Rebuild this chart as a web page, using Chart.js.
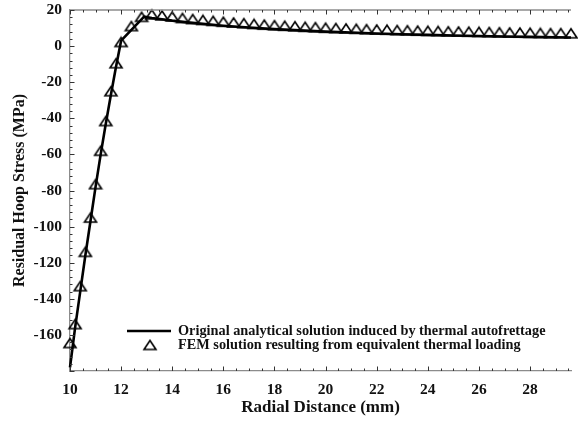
<!DOCTYPE html>
<html>
<head>
<meta charset="utf-8">
<title>Residual hoop stress</title>
<script src="https://cdn.jsdelivr.net/npm/chart.js@4.4.0/dist/chart.umd.min.js"></script>
<style>
  html, body { margin: 0; padding: 0; background: #fff; }
  #wrap { width: 578px; height: 421px; position: relative; }
</style>
</head>
<body>
<div id="wrap"><canvas id="stressChart"></canvas></div>
<script>
  // --- Data: radius (mm) and residual hoop stress (MPa) ---
  const analyticR = [10.0, 10.2, 10.4, 10.6, 10.8, 11.0, 11.2, 11.4, 11.6, 11.8, 12.0,
    12.9, 13.2, 13.6, 14.0, 14.5, 15, 16, 17, 18, 19, 20, 21, 22, 23, 24, 25, 26, 27, 28, 29, 29.6];
  const analyticStress = [-178, -156, -136, -116, -97, -78, -60, -43, -27, -11.5, 3.0,
    16.3, 15.6, 14.9, 14.1, 13.3, 12.6, 11.3, 10.3, 9.4, 8.7, 8.0, 7.5, 7.0, 6.6, 6.2, 5.9, 5.6, 5.3, 5.1, 4.9, 4.8];

  const femR = [10.0, 10.2, 10.4, 10.6, 10.8, 11.0, 11.2, 11.4, 11.6, 11.8, 12.0,
    12.4, 12.8, 13.2, 13.6, 14.0, 14.4, 14.8, 15.2, 15.6, 16.0, 16.4, 16.8, 17.2, 17.6, 18.0,
    18.4, 18.8, 19.2, 19.6, 20.0, 20.4, 20.8, 21.2, 21.6, 22.0, 22.4, 22.8, 23.2, 23.6, 24.0,
    24.4, 24.8, 25.2, 25.6, 26.0, 26.4, 26.8, 27.2, 27.6, 28.0, 28.4, 28.8, 29.2, 29.6];
  const femStress = [-164.5, -154, -133, -114, -95, -76.5, -58, -41.5, -25, -9.5, 2.3,
    11.1, 16.2, 17.6, 17.0, 16.4, 15.6, 15.0, 14.5, 14.0, 13.5, 13.1, 12.7, 12.3, 11.9, 11.6,
    11.3, 11.0, 10.7, 10.5, 10.2, 10.0, 9.8, 9.6, 9.4, 9.2, 9.1, 8.9, 8.8, 8.6, 8.5,
    8.4, 8.2, 8.1, 8.0, 7.9, 7.8, 7.7, 7.6, 7.5, 7.4, 7.3, 7.2, 7.2, 7.1];

  const xTickValues = [10, 12, 14, 16, 18, 20, 22, 24, 26, 28];
  const yTickValues = [-160, -140, -120, -100, -80, -60, -40, -20, 0, 20];

  const serif = "'Liberation Serif', 'Times New Roman', serif";
  const axisGray = "#8c8c8c";

  // hollow triangle marker (a bit wider than tall)
  function makeTriangle(w, h, lw) {
    const c = document.createElement("canvas");
    c.width = w + 4;
    c.height = h + 4;
    const g = c.getContext("2d");
    g.strokeStyle = "#000";
    g.lineWidth = lw;
    g.beginPath();
    g.moveTo(c.width / 2, 2);
    g.lineTo(c.width - 2, h + 2);
    g.lineTo(2, h + 2);
    g.closePath();
    g.stroke();
    return c;
  }
  const triangle = makeTriangle(12, 9, 1.6);

  // inward minor/major ticks on left, bottom and top edges, plus the top frame line
  const frameTicks = {
    id: "frameTicks",
    afterDatasetsDraw(chart) {
      const { ctx, chartArea: a, scales: { x, y } } = chart;
      ctx.save();
      ctx.strokeStyle = axisGray;
      ctx.lineWidth = 1.3;
      ctx.beginPath();
      ctx.moveTo(a.left, a.top);
      ctx.lineTo(a.right, a.top);
      ctx.stroke();

      ctx.strokeStyle = "#333";
      ctx.lineWidth = 1;
      ctx.beginPath();
      for (let i = 0; 10 + i * 0.5 <= x.max + 1e-9; i++) {
        const px = Math.round(x.getPixelForValue(10 + i * 0.5)) + 0.5;
        const len = i % 4 === 0 ? 4.5 : 2.5;
        ctx.moveTo(px, a.bottom);
        ctx.lineTo(px, a.bottom - len);
        ctx.moveTo(px, a.top);
        ctx.lineTo(px, a.top + len);
      }
      for (let v = -180; v <= 20; v += 4) {
        const py = Math.round(y.getPixelForValue(v)) + 0.5;
        const len = v % 20 === 0 ? 4.5 : 2.5;
        ctx.moveTo(a.left, py);
        ctx.lineTo(a.left + len, py);
      }
      ctx.stroke();
      ctx.restore();
    }
  };

  // legend drawn inside the plot, lower right
  const insetLegend = {
    id: "insetLegend",
    afterDraw(chart) {
      const { ctx, chartArea: a } = chart;
      const [lineSet, femSet] = chart.data.datasets;
      const row1 = a.top + 321, row2 = a.top + 335;
      const tx = a.left + 108;
      ctx.save();
      ctx.strokeStyle = "#000";
      ctx.lineWidth = 2.6;
      ctx.beginPath();
      ctx.moveTo(a.left + 57, row1);
      ctx.lineTo(a.left + 101, row1);
      ctx.stroke();
      ctx.drawImage(triangle, a.left + 80 - triangle.width / 2, row2 - triangle.height / 2);

      ctx.fillStyle = "#111";
      ctx.font = "bold 14.3px " + serif;
      ctx.textBaseline = "middle";
      ctx.textAlign = "left";
      ctx.fillText(lineSet.label, tx, row1);
      ctx.fillText(femSet.label, tx, row2);
      ctx.restore();
    }
  };

  function renderChart() {
    const el = document.getElementById("stressChart");
    if (!el) return;

    new Chart(el, {
      type: "line",
      data: {
        datasets: [
          {
            label: "Original analytical solution induced by thermal autofrettage",
            data: analyticR.map((r, i) => ({ x: r, y: analyticStress[i] })),
            borderColor: "#000",
            borderWidth: 2.6,
            pointRadius: 0,
            tension: 0,
            clip: false
          },
          {
            label: "FEM solution resulting from equivalent thermal loading",
            data: femR.map((r, i) => ({ x: r, y: femStress[i] })),
            showLine: false,
            pointStyle: triangle,
            pointRadius: 6,
            clip: false
          }
        ]
      },
      options: {
        responsive: true,
        maintainAspectRatio: false,
        animation: false,
        layout: { padding: { top: 10, right: 0, bottom: 0, left: 0 } },
        plugins: {
          legend: { display: false },
          tooltip: { enabled: false }
        },
        scales: {
          x: {
            type: "linear",
            min: 10,
            max: 29.6,
            afterBuildTicks: s => { s.ticks = xTickValues.map(v => ({ value: v })); },
            afterFit: s => { s.height = 50; s.paddingLeft = 0; s.paddingRight = 0; },
            grid: { drawOnChartArea: false, drawTicks: false },
            border: { display: true, color: axisGray, width: 1.3 },
            ticks: {
              padding: 10,
              color: "#111",
              maxRotation: 0,
              font: { family: serif, weight: "bold", size: 15.5 }
            },
            title: {
              display: true,
              text: "Radial Distance (mm)",
              color: "#111",
              font: { family: serif, weight: "bold", size: 17 },
              padding: { top: 0, bottom: 3 }
            }
          },
          y: {
            min: -180,
            max: 20,
            afterBuildTicks: s => { s.ticks = yTickValues.map(v => ({ value: v })); },
            afterFit: s => { s.width = 70; s.paddingTop = 0; s.paddingBottom = 0; },
            grid: { drawOnChartArea: false, drawTicks: false },
            border: { display: true, color: axisGray, width: 1.3 },
            ticks: {
              padding: 8,
              color: "#111",
              font: { family: serif, weight: "bold", size: 15.5 }
            },
            title: {
              display: true,
              text: "Residual Hoop Stress (MPa)",
              color: "#111",
              font: { family: serif, weight: "bold", size: 16 },
              padding: { top: 10.5, bottom: 0 }
            }
          }
        }
      },
      plugins: [frameTicks, insetLegend]
    });
  }

  window.addEventListener("DOMContentLoaded", renderChart);
</script>
</body>
</html>
